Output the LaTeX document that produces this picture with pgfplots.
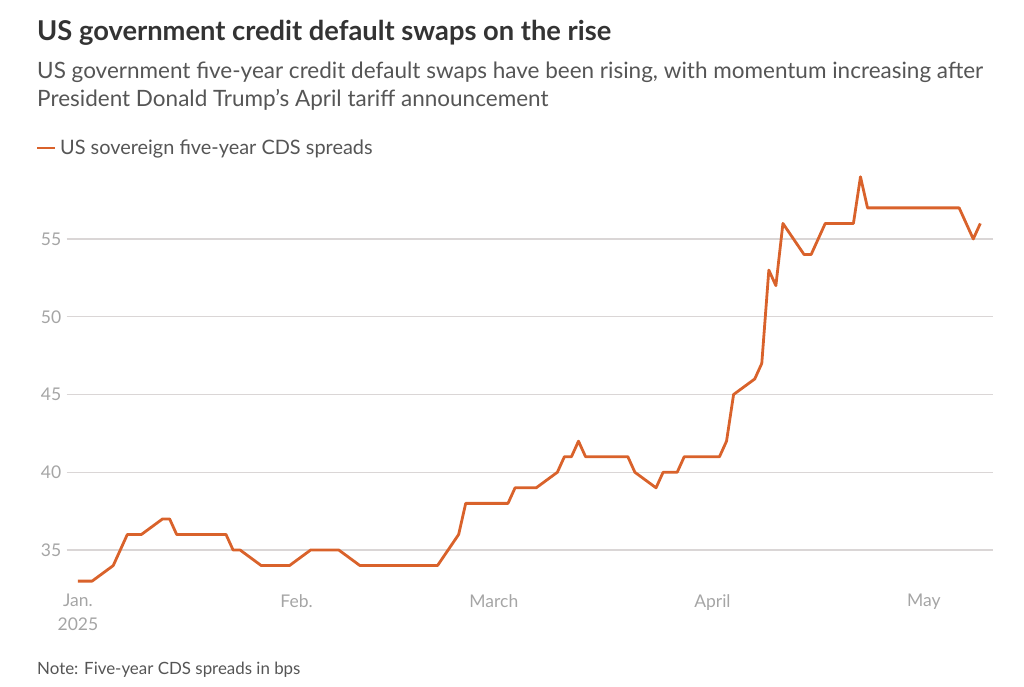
\documentclass[border=0pt]{standalone}
\usepackage{pgfplots}
\pgfplotsset{compat=1.18}
\usepackage{fontspec}
\setmainfont{Lato}
\definecolor{cds}{RGB}{217,98,43}
\definecolor{gridc}{RGB}{218,214,214}
\definecolor{tickc}{RGB}{165,165,165}
\definecolor{titlec}{RGB}{51,51,51}
\definecolor{subc}{RGB}{85,85,85}
\begin{document}
\begin{tikzpicture}[x=1pt,y=1pt]
\useasboundingbox (0,0) rectangle (1024,-687);
\node[anchor=base west,inner sep=0,font=\fontsize{27.3}{30}\selectfont\bfseries,text=titlec] at (37,-41) {US government credit default swaps on the rise};
\node[anchor=base west,inner sep=0,font=\fontsize{22.5}{26}\selectfont,text=subc] at (37,-79) {US government five-year credit default swaps have been rising, with momentum increasing after};
\node[anchor=base west,inner sep=0,font=\fontsize{22.5}{26}\selectfont,text=subc] at (37,-107) {President Donald Trump's April tariff announcement};
\draw[cds,line width=2.8pt] (37,-148) -- (55,-148);
\node[anchor=base west,inner sep=0,font=\fontsize{19.9}{22}\selectfont,text=subc] at (60,-155) {US sovereign five-year CDS spreads};
\node[anchor=base west,inner sep=0,font=\fontsize{16.9}{18}\selectfont,text=subc] at (37,-674) {Note: Five-year CDS spreads in bps};
\begin{axis}[
  at={(66.7pt,-588.9pt)}, anchor=south west,
  scale only axis, width=926.3pt, height=419.9pt,
  xmin=-1.6, xmax=129.8, ymin=32.5, ymax=59.5,
  axis line style={draw=none},
  major tick length=0pt,
  ytick={35,40,45,50,55},
  ymajorgrids, grid style={gridc,line width=1.2pt},
  xtick={0,31,59,90,120},
  xticklabels={{Jan.\\2025},Feb.,March,April,May},
  xticklabel style={align=center,font=\fontsize{17.5}{24}\selectfont,text=tickc,yshift=-2pt},
  yticklabel style={font=\fontsize{17.5}{20}\selectfont,text=tickc,xshift=-2pt},
  /pgf/number format/assume math mode=true,
  clip=false,
]
\addplot[cds,line width=2.8pt,line join=round] coordinates {
(0,33)(2,33)(5,34)(7,36)(9,36)(12,37)(13,37)(14,36)(21,36)(22,35)(23,35)
(26,34)(30,34)(33,35)(37,35)(40,34)(51,34)(54,36)(55,38)(61,38)(62,39)
(65,39)(68,40)(69,41)(70,41)(71,42)(72,41)(78,41)(79,40)(82,39)(83,40)
(85,40)(86,41)(91,41)(92,42)(93,45)(96,46)(97,47)(98,53)(99,52)(100,56)
(103,54)(104,54)(106,56)(110,56)(111,59)(112,57)(125,57)(127,55)(128,56)
};
\end{axis}
\end{tikzpicture}
\end{document}
